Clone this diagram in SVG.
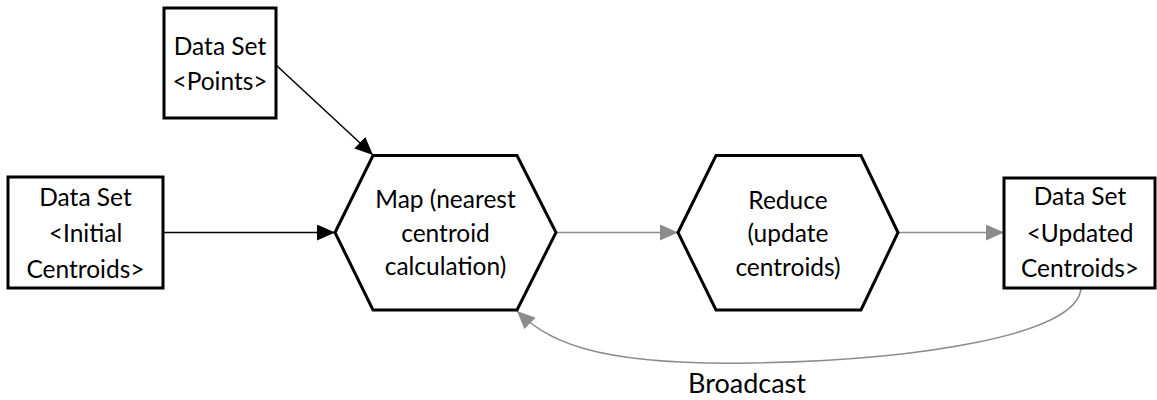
<svg xmlns="http://www.w3.org/2000/svg" width="1157" height="400" viewBox="0 0 1157 400">
<style>
.box{fill:#fff;stroke:#000;stroke-width:3}
.t{font-family:Lato,"Liberation Sans",sans-serif;font-size:24.5px;fill:#000;text-anchor:middle}
.bl{stroke:#000;stroke-width:1.5;fill:none}
.gr{stroke:#8c8c8c;stroke-width:1.5;fill:none}
</style>
<defs>
<marker id="ab" markerUnits="userSpaceOnUse" markerWidth="18" markerHeight="16" refX="18" refY="8" orient="auto"><path d="M0,0 L18,8 L0,16 z" fill="#000"/></marker>
<marker id="ag" markerUnits="userSpaceOnUse" markerWidth="18" markerHeight="16" refX="18" refY="8" orient="auto"><path d="M0,0 L18,8 L0,16 z" fill="#8c8c8c"/></marker>
</defs>
<rect width="1157" height="400" fill="#fff"/>
<g id="connectors">
<line class="bl" x1="276" y1="65" x2="373" y2="155" marker-end="url(#ab)"/>
<line class="bl" x1="163" y1="232.5" x2="335" y2="232.5" marker-end="url(#ab)"/>
<line class="gr" x1="556" y1="232.5" x2="678" y2="232.5" marker-end="url(#ag)"/>
<line class="gr" x1="898" y1="232.5" x2="1004" y2="232.5" marker-end="url(#ag)"/>
<path class="gr" d="M1081,288 C1078,335 920,360 753,363 C586,366 545,338 517,311" marker-end="url(#ag)"/>
<text class="t" x="747" y="393" style="font-size:27px">Broadcast</text>
</g>
<g id="points">
<rect class="box" x="164" y="8" width="112" height="110"/>
<text class="t" x="220" y="55">Data Set</text>
<text class="t" x="220" y="90">&lt;Points&gt;</text>
</g>
<g id="initial">
<rect class="box" x="8" y="177" width="155" height="111"/>
<text class="t" x="85.5" y="206">Data Set</text>
<text class="t" x="85.5" y="242">&lt;Initial</text>
<text class="t" x="85.5" y="278">Centroids&gt;</text>
</g>
<g id="map">
<polygon class="box" points="335,232.5 373,155.5 517,155.5 556,232.5 517,310 373,310"/>
<text class="t" x="445.5" y="208">Map (nearest</text>
<text class="t" x="445.5" y="242">centroid</text>
<text class="t" x="445.5" y="275">calculation)</text>
</g>
<g id="reduce">
<polygon class="box" points="678,232.5 716,155.5 861,155.5 898,232.5 861,310 716,310"/>
<text class="t" x="788" y="209">Reduce</text>
<text class="t" x="788" y="242">(update</text>
<text class="t" x="788" y="276">centroids)</text>
</g>
<g id="updated">
<rect class="box" x="1004" y="178" width="151" height="110"/>
<text class="t" x="1080" y="205">Data Set</text>
<text class="t" x="1080" y="242">&lt;Updated</text>
<text class="t" x="1080" y="277">Centroids&gt;</text>
</g>
</svg>
